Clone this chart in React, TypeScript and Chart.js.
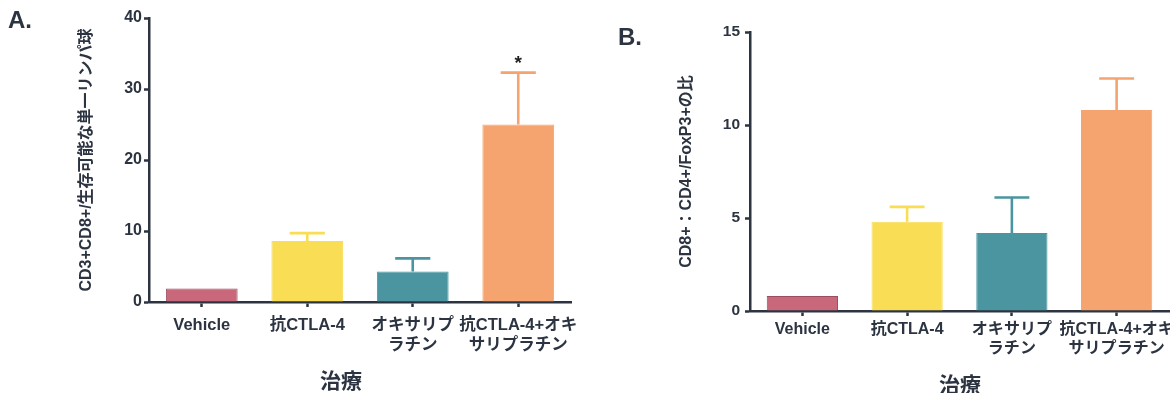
import React, { useEffect, useRef } from "react";
import { Chart, registerables } from "chart.js";

Chart.register(...registerables);

// ---------- data ----------
const categories = [
  "Vehicle",
  "抗CTLA-4",
  ["オキサリプ", "ラチン"],
  ["抗CTLA-4+オキ", "サリプラチン"],
];

const meansA = [1.9, 8.6, 4.3, 25.0];
const errorsA = [0, 1.1, 1.85, 7.3];
const marksA = ["", "", "", "*"];
const yTicksA = [0, 10, 20, 30, 40];
const yTitleA = "CD3+CD8+/生存可能な単一リンパ球";

const meansB = [0.8, 4.8, 4.2, 10.8];
const errorsB = [0, 0.8, 1.9, 1.7];
const marksB = ["", "", "", ""];
const yTicksB = [0, 5, 10, 15];
const yTitleB = "CD8+：CD4+/FoxP3+の比";

const xTitle = "治療";

const barColors = ["#c8687a", "#f8dd55", "#4b95a0", "#f5a46f"];
const barBorders = ["#9c4c61", "#f8dd55", "#4b95a0", "#f5a46f"];

// ---------- styling ----------
const AXIS = "#2c3441";
const FONT = "'Liberation Sans', Arial, 'Noto Sans CJK JP', sans-serif";

const annotPlugin = {
  id: "annot",
  afterDatasetsDraw(chart: any, _args: any, opts: any) {
    const { ctx } = chart;
    const yScale = chart.scales.y;
    const meta = chart.getDatasetMeta(0);
    ctx.save();
    meta.data.forEach((bar: any, i: number) => {
      const mean = opts.means[i];
      const err = opts.errors[i];
      const color = opts.colors[i];
      const x = bar.x;
      const capHalf = bar.width * 0.245;
      const top = yScale.getPixelForValue(mean + err);
      if (err > 0) {
        const base = yScale.getPixelForValue(mean);
        ctx.strokeStyle = color;
        ctx.lineWidth = 2.6;
        ctx.lineCap = "butt";
        ctx.beginPath();
        ctx.moveTo(x, base);
        ctx.lineTo(x, top);
        ctx.moveTo(x - capHalf, top);
        ctx.lineTo(x + capHalf, top);
        ctx.stroke();
      }
      const mark = opts.marks[i];
      if (mark) {
        ctx.fillStyle = "#1e1e1e";
        ctx.font = `bold 19px ${FONT}`;
        ctx.textAlign = "center";
        ctx.textBaseline = "alphabetic";
        ctx.fillText(mark, x, top - 4);
      }
    });
    ctx.restore();
  },
  afterDraw(chart: any, _args: any, opts: any) {
    const { ctx } = chart;
    ctx.save();
    ctx.fillStyle = AXIS;
    ctx.font = `bold 24px ${FONT}`;
    ctx.textAlign = "left";
    ctx.textBaseline = "alphabetic";
    ctx.fillText(opts.letter, opts.letterX, opts.letterY);
    ctx.font = `bold 21px ${FONT}`;
    ctx.textAlign = "center";
    ctx.textBaseline = "middle";
    ctx.fillText(opts.xTitle, opts.xTitleX, opts.xTitleY);
    ctx.restore();
  },
};

type PanelProps = {
  left: number;
  width: number;
  means: number[];
  errors: number[];
  marks: string[];
  yTicks: number[];
  yTitle: string;
  letter: string;
  letterX: number;
  letterY: number;
  xTitleX: number;
  xTitleY: number;
  yWidth: number;
  xHeight: number;
  padTop: number;
  padRight: number;
  yTitlePad: number;
  yTickPad: number;
  tickFont: number;
  catFont: number;
  catLineHeight: number;
  catPad: number;
};

function Panel(p: PanelProps) {
  const ref = useRef<HTMLCanvasElement | null>(null);
  useEffect(() => {
    if (!ref.current) return;
    const step = p.yTicks[1] - p.yTicks[0];
    const chart = new Chart(ref.current, {
      type: "bar",
      data: {
        labels: categories as any,
        datasets: [
          {
            data: p.means,
            backgroundColor: barColors,
            borderColor: barBorders,
            borderWidth: 1,
            barPercentage: 0.68,
            categoryPercentage: 1.0,
          },
        ],
      },
      plugins: [annotPlugin as any],
      options: {
        responsive: false,
        animation: false,
        devicePixelRatio: 1,
        layout: {
          padding: { left: 0, top: p.padTop, right: p.padRight, bottom: 0 },
        },
        plugins: {
          legend: { display: false },
          tooltip: { enabled: false },
          annot: {
            means: p.means,
            errors: p.errors,
            marks: p.marks,
            colors: barColors,
            letter: p.letter,
            letterX: p.letterX,
            letterY: p.letterY,
            xTitle,
            xTitleX: p.xTitleX,
            xTitleY: p.xTitleY,
          },
        } as any,
        scales: {
          x: {
            type: "category",
            offset: true,
            grid: {
              display: true,
              drawOnChartArea: false,
              offset: false,
              tickLength: 5,
              tickWidth: 2.5,
              tickColor: AXIS,
            },
            border: { display: true, color: AXIS, width: 2.5 },
            ticks: {
              color: AXIS,
              autoSkip: false,
              maxRotation: 0,
              minRotation: 0,
              padding: p.catPad,
              font: {
                family: FONT,
                size: p.catFont,
                weight: "bold",
                lineHeight: p.catLineHeight / p.catFont,
              },
            },
            afterFit: (s: any) => {
              s.height = p.xHeight;
            },
          } as any,
          y: {
            min: p.yTicks[0],
            max: p.yTicks[p.yTicks.length - 1],
            grid: {
              display: true,
              drawOnChartArea: false,
              tickLength: 5,
              tickWidth: 2.5,
              tickColor: AXIS,
            },
            border: { display: true, color: AXIS, width: 2.5 },
            ticks: {
              stepSize: step,
              color: AXIS,
              padding: p.yTickPad,
              font: { family: FONT, size: p.tickFont, weight: "bold" },
            },
            title: {
              display: true,
              text: p.yTitle,
              color: AXIS,
              font: { family: FONT, size: 16, weight: "bold", lineHeight: 1.2 },
              padding: { top: p.yTitlePad, bottom: 0 },
            },
            afterFit: (s: any) => {
              s.width = p.yWidth;
            },
          } as any,
        },
      },
    });
    return () => chart.destroy();
  }, []);
  return (
    <canvas
      ref={ref}
      width={p.width}
      height={393}
      style={{
        position: "absolute",
        left: p.left,
        top: 0,
        width: p.width,
        height: 393,
        display: "block",
      }}
    />
  );
}

export default function App() {
  return (
    <div
      style={{
        position: "absolute",
        left: 0,
        top: 0,
        width: 1170,
        height: 393,
        overflow: "hidden",
        background: "#ffffff",
      }}
    >
      <Panel
        left={0}
        width={600}
        means={meansA}
        errors={errorsA}
        marks={marksA}
        yTicks={yTicksA}
        yTitle={yTitleA}
        letter="A."
        letterX={8}
        letterY={28}
        xTitleX={341}
        xTitleY={382}
        yWidth={149}
        xHeight={91}
        padTop={18}
        padRight={29}
        yTitlePad={77.4}
        yTickPad={2}
        tickFont={16}
        catFont={16.5}
        catLineHeight={20}
        catPad={8}
      />
      <Panel
        left={600}
        width={650}
        means={meansB}
        errors={errorsB}
        marks={marksB}
        yTicks={yTicksB}
        yTitle={yTitleB}
        letter="B."
        letterX={18}
        letterY={45}
        xTitleX={360}
        xTitleY={386}
        yWidth={150}
        xHeight={82}
        padTop={32}
        padRight={81}
        yTitlePad={76.9}
        yTickPad={5}
        tickFont={15.5}
        catFont={16}
        catLineHeight={18.5}
        catPad={4.75}
      />
    </div>
  );
}
